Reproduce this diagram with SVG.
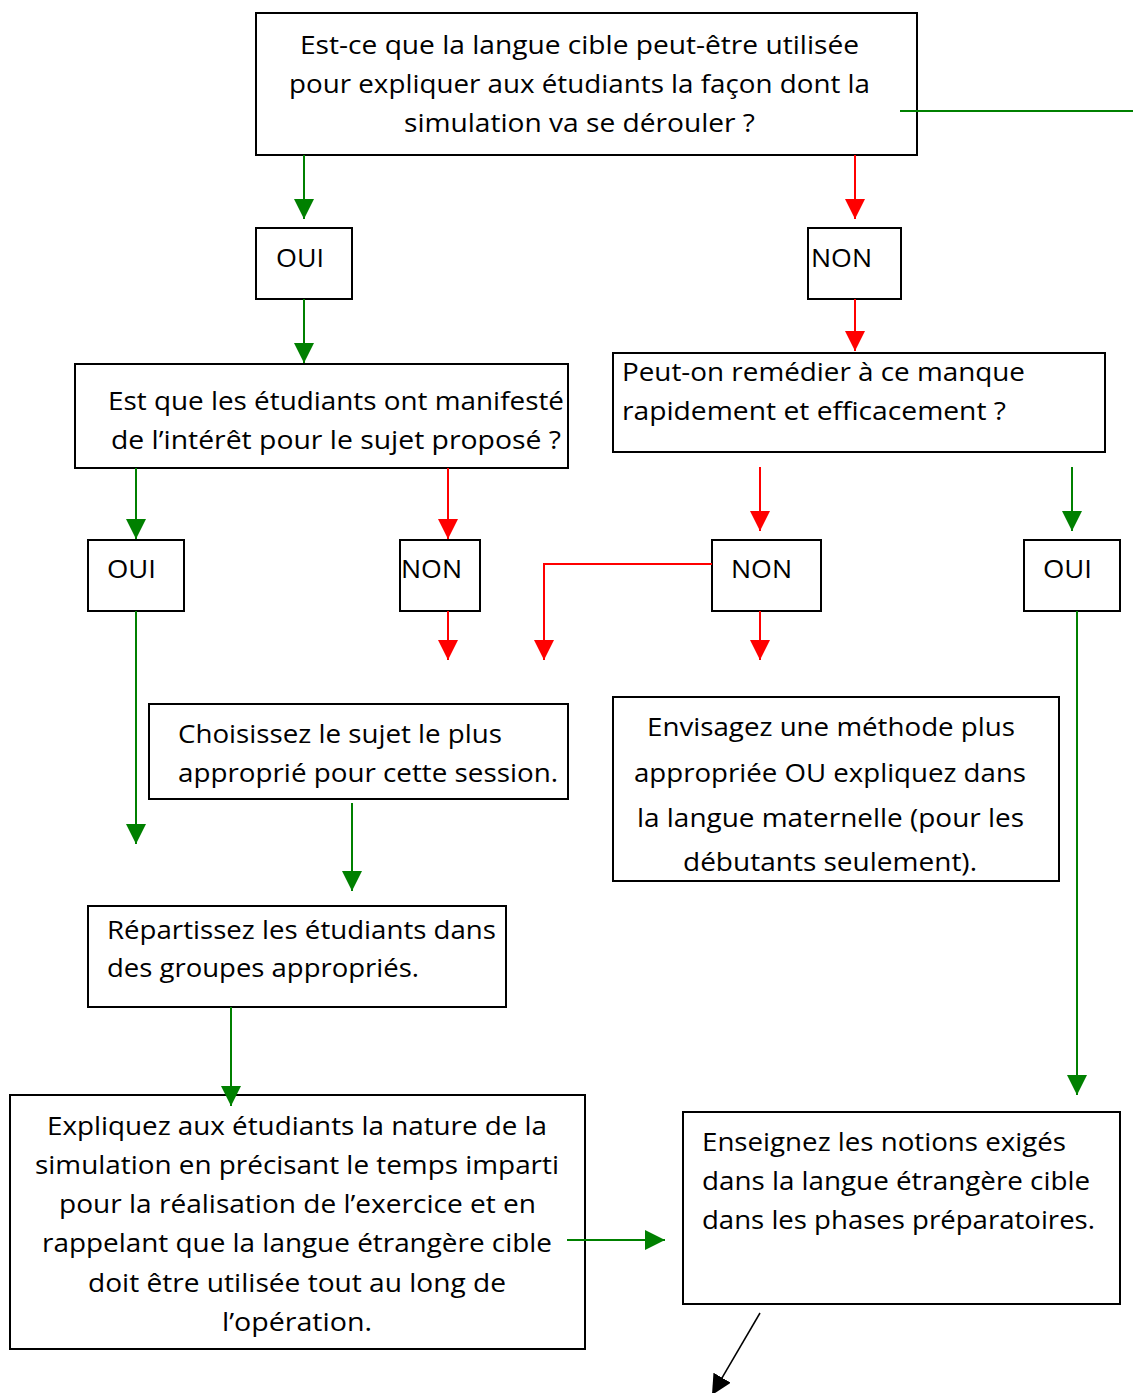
<svg xmlns="http://www.w3.org/2000/svg" width="1133" height="1393" viewBox="0 0 1133 1393">
<style>
.box{fill:#fff;stroke:#000;stroke-width:2}
.t{font-family:"Open Sans","Noto Sans","Liberation Sans",sans-serif;font-size:25px;fill:#000}
.g{stroke:#008000;stroke-width:2;fill:none}
.r{stroke:#ff0000;stroke-width:2;fill:none}
.k{stroke:#000;stroke-width:1.5;fill:none}
</style>
<defs>
<marker id="ag" markerUnits="userSpaceOnUse" markerWidth="20" markerHeight="20" refX="20" refY="10" orient="auto"><path d="M0,0 L20,10 L0,20 z" fill="#008000"/></marker>
<marker id="ar" markerUnits="userSpaceOnUse" markerWidth="20" markerHeight="20" refX="20" refY="10" orient="auto"><path d="M0,0 L20,10 L0,20 z" fill="#ff0000"/></marker>
<marker id="ak" markerUnits="userSpaceOnUse" markerWidth="20" markerHeight="20" refX="20" refY="10" orient="auto"><path d="M0,0 L20,10 L0,20 z" fill="#000"/></marker>
</defs>
<rect width="1133" height="1393" fill="#fff"/>

<g id="q1">
<rect class="box" x="256" y="13" width="661" height="142"/>
<text class="t" x="300" y="54" textLength="559" lengthAdjust="spacingAndGlyphs">Est-ce que la langue cible peut-être utilisée</text>
<text class="t" x="289" y="93" textLength="581" lengthAdjust="spacingAndGlyphs">pour expliquer aux étudiants la façon dont la</text>
<text class="t" x="404" y="132" textLength="351" lengthAdjust="spacingAndGlyphs">simulation va se dérouler ?</text>
</g>

<g id="oui1"><rect class="box" x="256" y="228" width="96" height="71"/><text class="t" x="276" y="267" textLength="48" lengthAdjust="spacingAndGlyphs">OUI</text></g>
<g id="non1"><rect class="box" x="808" y="228" width="93" height="71"/><text class="t" x="811" y="267" textLength="61" lengthAdjust="spacingAndGlyphs">NON</text></g>

<g id="q2">
<rect class="box" x="75" y="364" width="493" height="104"/>
<text class="t" x="108" y="410" textLength="456" lengthAdjust="spacingAndGlyphs">Est que les étudiants ont manifesté</text>
<text class="t" x="111" y="449" textLength="450" lengthAdjust="spacingAndGlyphs">de l’intérêt pour le sujet proposé ?</text>
</g>

<g id="q3">
<rect class="box" x="613" y="353" width="492" height="99"/>
<text class="t" x="622" y="381" textLength="403" lengthAdjust="spacingAndGlyphs">Peut-on remédier à ce manque</text>
<text class="t" x="622" y="420" textLength="384" lengthAdjust="spacingAndGlyphs">rapidement et efficacement ?</text>
</g>

<g id="oui2"><rect class="box" x="88" y="540" width="96" height="71"/><text class="t" x="107" y="578" textLength="49" lengthAdjust="spacingAndGlyphs">OUI</text></g>
<g id="non2"><rect class="box" x="400" y="540" width="80" height="71"/><text class="t" x="401" y="578" textLength="61" lengthAdjust="spacingAndGlyphs">NON</text></g>
<g id="non3"><rect class="box" x="712" y="540" width="109" height="71"/><text class="t" x="731" y="578" textLength="61" lengthAdjust="spacingAndGlyphs">NON</text></g>
<g id="oui3"><rect class="box" x="1024" y="540" width="96" height="71"/><text class="t" x="1043" y="578" textLength="49" lengthAdjust="spacingAndGlyphs">OUI</text></g>

<g id="choisissez">
<rect class="box" x="149" y="704" width="419" height="95"/>
<text class="t" x="178" y="743" textLength="324" lengthAdjust="spacingAndGlyphs">Choisissez le sujet le plus</text>
<text class="t" x="178" y="782" textLength="380" lengthAdjust="spacingAndGlyphs">approprié pour cette session.</text>
</g>

<g id="envisagez">
<rect class="box" x="613" y="697" width="446" height="184"/>
<text class="t" x="647" y="736" textLength="368" lengthAdjust="spacingAndGlyphs">Envisagez une méthode plus</text>
<text class="t" x="634" y="782" textLength="392" lengthAdjust="spacingAndGlyphs">appropriée OU expliquez dans</text>
<text class="t" x="637" y="827" textLength="387" lengthAdjust="spacingAndGlyphs">la langue maternelle (pour les</text>
<text class="t" x="683" y="871" textLength="294" lengthAdjust="spacingAndGlyphs">débutants seulement).</text>
</g>

<g id="repartissez">
<rect class="box" x="88" y="906" width="418" height="101"/>
<text class="t" x="107" y="939" textLength="389" lengthAdjust="spacingAndGlyphs">Répartissez les étudiants dans</text>
<text class="t" x="107" y="977" textLength="312" lengthAdjust="spacingAndGlyphs">des groupes appropriés.</text>
</g>

<g id="expliquez">
<rect class="box" x="10" y="1095" width="575" height="254"/>
<text class="t" x="47" y="1135" textLength="500" lengthAdjust="spacingAndGlyphs">Expliquez aux étudiants la nature de la</text>
<text class="t" x="35" y="1174" textLength="524" lengthAdjust="spacingAndGlyphs">simulation en précisant le temps imparti</text>
<text class="t" x="59" y="1213" textLength="477" lengthAdjust="spacingAndGlyphs">pour la réalisation de l’exercice et en</text>
<text class="t" x="42" y="1252" textLength="510" lengthAdjust="spacingAndGlyphs">rappelant que la langue étrangère cible</text>
<text class="t" x="88" y="1292" textLength="418" lengthAdjust="spacingAndGlyphs">doit être utilisée tout au long de</text>
<text class="t" x="222" y="1331" textLength="150" lengthAdjust="spacingAndGlyphs">l’opération.</text>
</g>

<g id="enseignez">
<rect class="box" x="683" y="1112" width="437" height="192"/>
<text class="t" x="702" y="1151" textLength="364" lengthAdjust="spacingAndGlyphs">Enseignez les notions exigés</text>
<text class="t" x="702" y="1190" textLength="388" lengthAdjust="spacingAndGlyphs">dans la langue étrangère cible</text>
<text class="t" x="702" y="1229" textLength="393" lengthAdjust="spacingAndGlyphs">dans les phases préparatoires.</text>
</g>

<g id="connectors">
<line class="g" x1="900" y1="111" x2="1133" y2="111"/>
<line class="g" x1="304" y1="155" x2="304" y2="219" marker-end="url(#ag)"/>
<line class="r" x1="855" y1="155" x2="855" y2="219" marker-end="url(#ar)"/>
<line class="g" x1="304" y1="299" x2="304" y2="363" marker-end="url(#ag)"/>
<line class="r" x1="855" y1="299" x2="855" y2="351" marker-end="url(#ar)"/>
<line class="g" x1="136" y1="468" x2="136" y2="539" marker-end="url(#ag)"/>
<line class="r" x1="448" y1="468" x2="448" y2="539" marker-end="url(#ar)"/>
<line class="r" x1="760" y1="467" x2="760" y2="531" marker-end="url(#ar)"/>
<line class="g" x1="1072" y1="467" x2="1072" y2="531" marker-end="url(#ag)"/>
<line class="r" x1="448" y1="611" x2="448" y2="660" marker-end="url(#ar)"/>
<polyline class="r" points="712,564 544,564 544,660" marker-end="url(#ar)"/>
<line class="r" x1="760" y1="611" x2="760" y2="660" marker-end="url(#ar)"/>
<line class="g" x1="136" y1="611" x2="136" y2="844" marker-end="url(#ag)"/>
<line class="g" x1="1077" y1="611" x2="1077" y2="1095" marker-end="url(#ag)"/>
<line class="g" x1="352" y1="803" x2="352" y2="891" marker-end="url(#ag)"/>
<line class="g" x1="231" y1="1007" x2="231" y2="1106" marker-end="url(#ag)"/>
<line class="g" x1="567" y1="1240" x2="665" y2="1240" marker-end="url(#ag)"/>
<line class="k" x1="760" y1="1313" x2="712" y2="1395" marker-end="url(#ak)"/>
</g>
</svg>
